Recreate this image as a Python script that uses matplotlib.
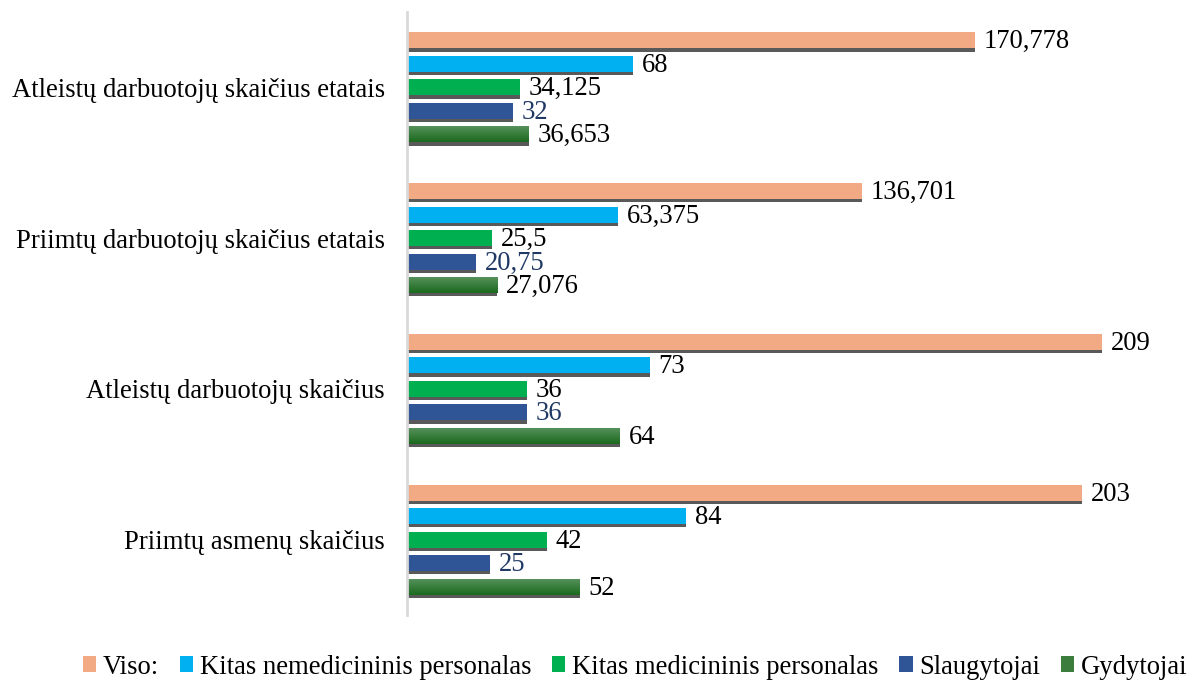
import numpy as np
import matplotlib
matplotlib.use("Agg")
import matplotlib.pyplot as plt
from matplotlib.patches import Patch
from matplotlib.colors import LinearSegmentedColormap

plt.rcParams['font.family'] = ['Liberation Serif', 'DejaVu Serif']

categories = ["Atleistų darbuotojų skaičius etatais",
              "Priimtų darbuotojų skaičius etatais",
              "Atleistų darbuotojų skaičius",
              "Priimtų asmenų skaičius"]
series_names = ["Viso:", "Kitas nemedicininis personalas",
                "Kitas medicininis personalas", "Slaugytojai", "Gydytojai"]
viso = [170.778, 136.701, 209, 203]
kitas_nemed = [68, 63.375, 73, 84]
kitas_med = [34.125, 25.5, 36, 42]
slaugytojai = [32, 20.75, 36, 25]
gydytojai = [36.653, 27.076, 64, 52]

series = [viso, kitas_nemed, kitas_med, slaugytojai, gydytojai]
colors = ["#F2AA85", "#00B0F0", "#00B050", "#2F5597", "#3A7D3C"]
label_colors = ["black", "black", "black", "#1F3864", "black"]

W, H = 1194, 682
fig = plt.figure(figsize=(W/100, H/100), dpi=100)
ax_left, ax_right = 407, 1150
ax_top, ax_bot = 12, 615
ax = fig.add_axes([ax_left/W, 1-ax_bot/H, (ax_right-ax_left)/W, (ax_bot-ax_top)/H])

px_per_unit = 695/209
xmax = (ax_right-ax_left)/px_per_unit
group_px = (ax_bot-ax_top)/4
pitch = 23.5/group_px
bh = 16/group_px
shadow = 3.2/group_px

grad_cmap = LinearSegmentedColormap.from_list("g", ["#55905A", "#1B6A1E"])
y0 = np.arange(len(categories))
fs = 19.2
for i, (vals, c, lc) in enumerate(zip(series, colors, label_colors)):
    ys = y0 + (i-2)*pitch
    ax.barh(ys + shadow, vals, height=bh, color="#595959", zorder=1)
    bars = ax.barh(ys, vals, height=bh, color=c, zorder=1.5)
    if i == 4:
        for b, v, y in zip(bars, vals, ys):
            grad = np.linspace(0, 1, 50).reshape(-1, 1)
            im = ax.imshow(grad, extent=(0, v, y+bh/2, y-bh/2), aspect='auto',
                           cmap=grad_cmap, origin='upper', zorder=1.8)
            im.set_clip_path(b)
    for v, y in zip(vals, ys):
        txt = ("%g" % v).replace(".", ",")
        ax.text(v + 2.6, y + 0.01, txt, ha='left', va='center', fontsize=fs, color=lc, zorder=4)

ax.set_xlim(0, xmax)
ax.set_ylim(3.5, -0.5)
ax.set_yticks(y0)
ax.set_yticklabels(categories, fontsize=fs)
ax.tick_params(axis='y', length=0, pad=16)
ax.set_xticks([])
for s in ['top', 'right', 'bottom']:
    ax.spines[s].set_visible(False)
ax.spines['left'].set_color("#D9D9D9")
ax.spines['left'].set_linewidth(2)
ax.spines['left'].set_zorder(3)

handles = [Patch(facecolor=c, edgecolor='none') for c in colors]
fig.legend(handles, series_names, loc='center', bbox_to_anchor=(0.532, 1-667/H),
           ncol=5, frameon=False, fontsize=fs, handlelength=0.5, handleheight=0.5,
           handletextpad=0.25, columnspacing=0.78)

fig.savefig("out.png", dpi=100)
